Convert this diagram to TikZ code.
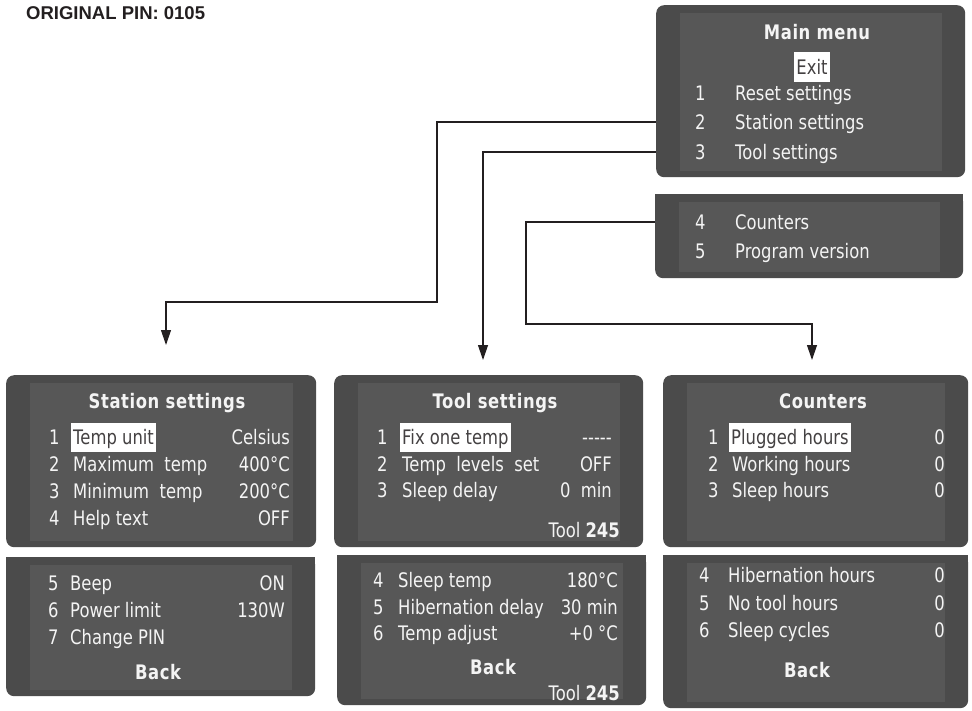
\documentclass[tikz,border=0pt]{standalone}
\usepackage{fontspec}
\setmainfont{DejaVu Sans}[FakeStretch=0.82]
\newfontfamily\pinfont{Liberation Sans}
\usepackage{xcolor}
\usetikzlibrary{arrows.meta}
\definecolor{screengray}{HTML}{4B4B4B}
\definecolor{panelgray}{HTML}{575757}
\definecolor{inkdark}{HTML}{231F20}
\definecolor{lcdwhite}{HTML}{F4F4F4}

\begin{document}
\begin{tikzpicture}[x=1pt,y=-1pt]
    \tikzstyle{screen} = [anchor=north west, rectangle, rounded corners=8pt, fill=screengray, inner sep=0pt]
    \tikzstyle{lcd} = [inner sep=0pt, text height=14pt, text depth=0pt, text=lcdwhite, font=\fontsize{20}{24}\selectfont]
    \tikzstyle{num} = [lcd, anchor=west]
    \tikzstyle{lbl} = [lcd, anchor=west]
    \tikzstyle{val} = [lcd, anchor=east]
    \tikzstyle{ttl} = [lcd, font=\fontsize{20}{24}\selectfont\bfseries\addfontfeature{LetterSpace=3}]
    \tikzstyle{hl} = [lcd, anchor=west, fill=white, text=inkdark!85, inner xsep=2pt, inner ysep=7.5pt]
    \tikzstyle{link} = [draw=inkdark, line width=1.2pt, -{Triangle[width=10pt,length=15pt]}]
    \useasboundingbox (0,0) rectangle (972,710);

    \node (pin) [anchor=west, inner sep=0pt, text=inkdark, font=\pinfont\fontsize{18.5}{20}\selectfont\bfseries] at (26,13) {ORIGINAL PIN: 0105};

    % screens
    \node (main)  [screen, minimum width=309pt, minimum height=172pt] at (656,5) {};
    \node (menu2) [screen, minimum width=308pt, minimum height=84pt] at (655,194) {};
    \node (sttop) [screen, minimum width=310pt, minimum height=172pt] at (6,375) {};
    \node (stbot) [screen, minimum width=309pt, minimum height=139pt] at (6,557) {};
    \node (totop) [screen, minimum width=309pt, minimum height=172pt] at (334,375) {};
    \node (tobot) [screen, minimum width=309pt, minimum height=150pt] at (337,555) {};
    \node (cotop) [screen, minimum width=305pt, minimum height=172pt] at (663,375) {};
    \node (cobot) [screen, minimum width=305pt, minimum height=153pt] at (663,555) {};
    \foreach \b in {menu2,stbot,tobot,cobot}
        \fill[screengray] (\b.north west) rectangle ([shift={(0,12)}]\b.north east);
    \foreach \b in {main,menu2,sttop,stbot,totop,tobot,cotop,cobot}
        \fill[panelgray] ([shift={(24,8)}]\b.north west) rectangle ([shift={(-23,-6)}]\b.south east);

    % main menu
    \node (mtitle) [ttl] at (817,32) {Main menu};
    \node (mexit) [hl, anchor=center, inner ysep=8pt] at (812,67) {Exit};
    \foreach \i/\y/\t in {1/93/Reset settings, 2/122/Station settings, 3/152/Tool settings, 4/222/Counters, 5/251/Program version} {
        \node (m\i) [num] at (695,\y) {\i};
        \node (ml\i) [lbl] at (735,\y) {\t};
    }

    % station settings
    \node (sttitle) [ttl] at (167,401) {Station settings};
    \node (sn1) [num] at (49,437) {1};
    \node (sl1) [hl] at (71,437) {Temp unit};
    \node (sv1) [val] at (290,437) {Celsius};
    \foreach \i/\y/\t/\v in {2/464/Maximum\ \ temp/400°C, 3/491/Minimum\ \ temp/200°C, 4/518/Help text/OFF} {
        \node (sn\i) [num] at (49,\y) {\i};
        \node (sl\i) [lbl] at (73,\y) {\t};
        \node (sv\i) [val] at (290,\y) {\v};
    }
    \foreach \i/\y/\t/\v in {5/583/Beep/ON, 6/610/Power limit/130W, 7/637/Change PIN/{}} {
        \node (sn\i) [num] at (48,\y) {\i};
        \node (sl\i) [lbl] at (70,\y) {\t};
        \node (sv\i) [val] at (285,\y) {\v};
    }
    \node (stback) [ttl] at (158,672) {Back};

    % tool settings
    \node (totitle) [ttl] at (495,401) {Tool settings};
    \node (tn1) [num] at (377,437) {1};
    \node (tl1) [hl] at (400,437) {Fix one temp};
    \node (tv1) [val] at (612,437) {-{}-{}-{}-{}-};
    \foreach \i/\y/\t/\v in {2/464/Temp\ \ levels\ \ set/OFF, 3/490/Sleep delay/0\ \ min} {
        \node (tn\i) [num] at (377,\y) {\i};
        \node (tl\i) [lbl] at (402,\y) {\t};
        \node (tv\i) [val] at (612,\y) {\v};
    }
    \node (totag) [val] at (620,530) {Tool \textbf{245}};
    \foreach \i/\y/\t/\v in {4/580/Sleep temp/180°C, 5/607/Hibernation delay/30 min, 6/633/Temp adjust/+0 °C} {
        \node (tn\i) [num] at (373,\y) {\i};
        \node (tl\i) [lbl] at (398,\y) {\t};
        \node (tv\i) [val] at (618,\y) {\v};
    }
    \node (toback) [ttl] at (493,667) {Back};
    \node (totag2) [val] at (620,693) {Tool \textbf{245}};

    % counters
    \node (cotitle) [ttl] at (823,401) {Counters};
    \node (cn1) [num] at (708,437) {1};
    \node (cl1) [hl] at (729,437) {Plugged hours};
    \node (cv1) [val] at (945,437) {0};
    \foreach \i/\y/\t in {2/464/Working hours, 3/490/Sleep hours} {
        \node (cn\i) [num] at (708,\y) {\i};
        \node (cl\i) [lbl] at (732,\y) {\t};
        \node (cv\i) [val] at (945,\y) {0};
    }
    \foreach \i/\y/\t in {4/575/Hibernation hours, 5/603/No tool hours, 6/630/Sleep cycles} {
        \node (cn\i) [num] at (699,\y) {\i};
        \node (cl\i) [lbl] at (728,\y) {\t};
        \node (cv\i) [val] at (945,\y) {0};
    }
    \node (coback) [ttl] at (807,670) {Back};

    % links
    \coordinate (stin) at (166,345);
    \coordinate (toin) at (483,360);
    \coordinate (coin) at (812,360);
    \draw[link] (main.west |- m2) -| (437,302) -| (stin);
    \draw[link] (main.west |- m3) -| (toin);
    \draw[link] (menu2.west |- m4) -| (526,324) -| (coin);
\end{tikzpicture}
\end{document}
